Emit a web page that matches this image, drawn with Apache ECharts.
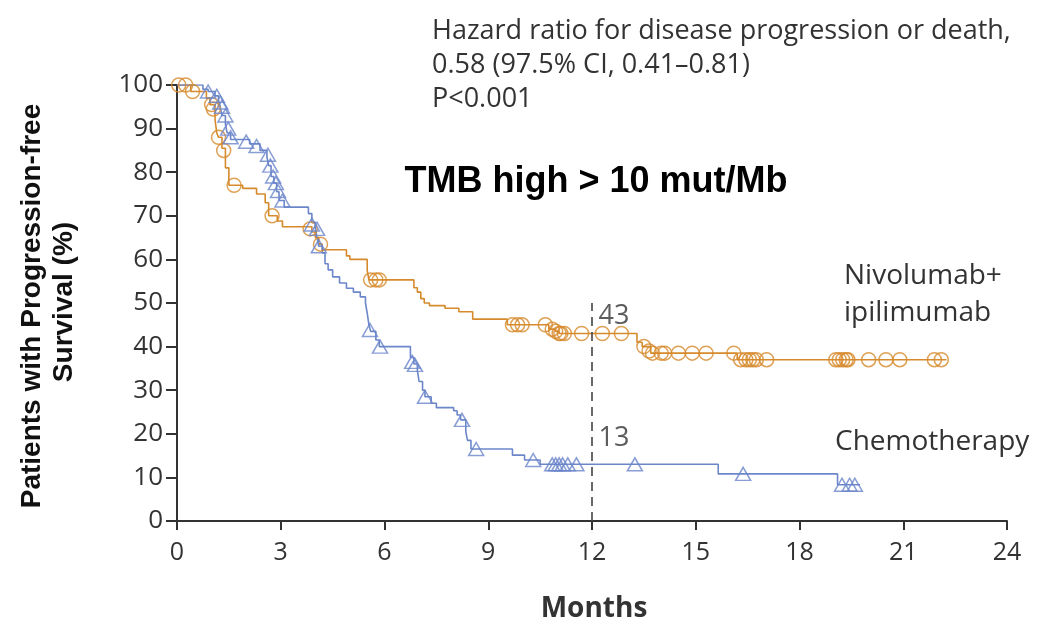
<!DOCTYPE html>
<html>
<head>
<meta charset="utf-8">
<script src="https://cdn.jsdelivr.net/npm/echarts@6/dist/echarts.min.js"></script>
<style>
  html, body { margin: 0; padding: 0; background: #fff; }
  #chart { width: 1042px; height: 628px; }
</style>
</head>
<body>
<div id="chart"></div>
<script>
// Kaplan-Meier progression-free survival, TMB high subgroup
const xTicks = [0, 3, 6, 9, 12, 15, 18, 21, 24];
const yTicks = [0, 10, 20, 30, 40, 50, 60, 70, 80, 90, 100];

// [month, survival %] after each event (step curve)
const nivoSteps = [
  [0, 100], [0.4, 98.5], [0.85, 97], [0.95, 95.5], [1.1, 92], [1.15, 89], [1.2, 88],
  [1.3, 85.5], [1.4, 81], [1.5, 77], [1.9, 76.3], [2.3, 75], [2.55, 73], [2.65, 70],
  [2.9, 68.8], [3.05, 67.5], [3.9, 66.3], [4.0, 65], [4.1, 63.5], [4.2, 62.2],
  [4.9, 60.8], [5.0, 60], [5.5, 57.5], [5.55, 55.3], [6.85, 53.5], [6.95, 52.5],
  [7.05, 51], [7.15, 50], [7.3, 49.4], [7.75, 48.8], [8.15, 48], [8.55, 46.3],
  [9.55, 45], [10.75, 44], [10.95, 43.5], [11.05, 43], [13.3, 41], [13.45, 40],
  [13.7, 38.5], [16.2, 37], [22.25, 37]
];
const nivoCensored = [
  [0.05, 100], [0.25, 100], [0.45, 98.5], [1.0, 95.5], [1.05, 94.5], [1.2, 88],
  [1.35, 85], [1.65, 77], [2.75, 70], [3.85, 67], [4.15, 63.5], [5.6, 55.3],
  [5.75, 55.3], [5.85, 55.3], [9.7, 45], [9.85, 45], [9.98, 45], [10.65, 45],
  [10.85, 44], [10.95, 43.5], [11.05, 43], [11.1, 43], [11.2, 43], [11.7, 43],
  [12.3, 43], [12.85, 43], [13.5, 40], [13.65, 39], [13.75, 38.5], [14.0, 38.5],
  [14.1, 38.5], [14.5, 38.5], [14.9, 38.5], [15.3, 38.5], [16.1, 38.5], [16.3, 37],
  [16.45, 37], [16.55, 37], [16.65, 37], [16.75, 37], [17.05, 37], [19.05, 37],
  [19.15, 37], [19.25, 37], [19.35, 37], [19.4, 37], [20.0, 37], [20.5, 37],
  [20.9, 37], [21.9, 37], [22.1, 37]
];

const chemoSteps = [
  [0, 100], [0.75, 99], [0.9, 98.5], [1.1, 97.5], [1.2, 96.5], [1.25, 95], [1.3, 93],
  [1.4, 91], [1.45, 89], [1.55, 87.5], [2.1, 86.5], [2.4, 85], [2.6, 83.5],
  [2.65, 81.5], [2.72, 79], [2.8, 77.5], [2.88, 75.5], [2.95, 73.5], [3.1, 72],
  [3.8, 70.5], [3.9, 68.5], [4.0, 67], [4.05, 65], [4.1, 63], [4.2, 61.5],
  [4.28, 59], [4.37, 57.6], [4.5, 56], [4.7, 54.6], [4.9, 53.4], [5.1, 52.5],
  [5.3, 51.4], [5.45, 50], [5.5, 47.7], [5.55, 45], [5.6, 43.5], [5.75, 41.5],
  [5.85, 40], [6.75, 37.5], [6.85, 36], [6.95, 34.5], [7.0, 32], [7.1, 30],
  [7.17, 28.5], [7.35, 27], [7.5, 26], [8.0, 25.3], [8.1, 24.3], [8.2, 23.2],
  [8.35, 20.5], [8.4, 18.5], [8.5, 16.5], [9.7, 15.1], [10.05, 14], [10.5, 13],
  [15.65, 10.8], [19.1, 8.3], [19.75, 8.3]
];
const chemoCensored = [
  [0.9, 98.5], [1.15, 97.5], [1.25, 96], [1.3, 95], [1.4, 93], [1.48, 90],
  [1.55, 88], [2.0, 87], [2.3, 86], [2.63, 84], [2.7, 81.5], [2.78, 79],
  [2.86, 77.5], [2.92, 75.7], [3.05, 73.5], [3.9, 68], [4.05, 67], [4.1, 63],
  [5.58, 43.8], [5.87, 40], [6.8, 36.5], [6.88, 35.8], [7.17, 28.5], [8.24, 23.2],
  [8.65, 16.5], [10.3, 14], [10.85, 13], [10.95, 13], [11.05, 13], [11.15, 13],
  [11.3, 13], [11.55, 13], [13.24, 13], [16.37, 10.8], [19.23, 8.3], [19.45, 8.3],
  [19.6, 8.3]
];

// survival at the 12-month landmark
const landmarkMonth = 12;
const landmarkNivo = 43;
const landmarkChemo = 13;

const ORANGE = '#D68A2C';
const BLUE = '#6C86CA';
const INK = '#333333';
const LABEL_FONT = '"Open Sans", "Noto Sans", sans-serif';
const BOLD_FONT = '"Liberation Sans", Arial, sans-serif';

const chart = echarts.init(document.getElementById('chart'), null, { renderer: 'canvas' });

chart.setOption({
  animation: false,
  grid: { left: 177, right: 35, top: 85, bottom: 107 },
  xAxis: {
    type: 'value', min: xTicks[0], max: xTicks[xTicks.length - 1], interval: 3,
    axisLine: { lineStyle: { color: INK, width: 2 } },
    axisTick: { length: 9, lineStyle: { color: INK, width: 2 } },
    axisLabel: { color: INK, fontSize: 25, fontFamily: LABEL_FONT, margin: 19 },
    splitLine: { show: false }
  },
  yAxis: {
    type: 'value', min: yTicks[0], max: yTicks[yTicks.length - 1], interval: 10,
    axisLine: { lineStyle: { color: INK, width: 2 } },
    axisTick: { length: 11, lineStyle: { color: INK, width: 2 } },
    axisLabel: { color: INK, fontSize: 26, fontFamily: LABEL_FONT, margin: 14 },
    splitLine: { show: false }
  },
  series: [
    {
      type: 'line', step: 'end', data: nivoSteps, showSymbol: false, symbol: 'none',
      lineStyle: { color: ORANGE, width: 1.6 }, z: 3,
      markLine: {
        silent: true, symbol: 'none', label: { show: false },
        lineStyle: { color: '#444', type: [9, 6], width: 1.6 },
        data: [[{ coord: [landmarkMonth, 0] }, { coord: [landmarkMonth, 50] }]]
      }
    },
    {
      type: 'scatter', data: nivoCensored, symbol: 'circle', symbolSize: 14,
      itemStyle: { color: 'transparent', borderColor: ORANGE, borderWidth: 1.5 }, z: 4
    },
    {
      type: 'line', step: 'end', data: chemoSteps, showSymbol: false, symbol: 'none',
      lineStyle: { color: BLUE, width: 1.6 }, z: 3
    },
    {
      type: 'scatter', data: chemoCensored, symbol: 'triangle', symbolSize: [15, 13],
      itemStyle: { color: 'transparent', borderColor: BLUE, borderWidth: 1.5 }, z: 4
    },
    {
      // landmark annotations at 12 months
      type: 'scatter', symbol: 'circle', symbolSize: 1, silent: true,
      itemStyle: { color: 'rgba(0,0,0,0)' },
      data: [
        { value: [landmarkMonth, landmarkNivo], label: { offset: [0, -17] } },
        { value: [landmarkMonth, landmarkChemo], label: { offset: [0, -26] } }
      ],
      label: {
        show: true, position: 'right', distance: 6,
        color: INK, fontSize: 27, fontFamily: LABEL_FONT,
        formatter: p => String(p.value[1])
      }, z: 5
    }
  ],
  graphic: [
    {
      type: 'text', left: 432, top: 14,
      style: {
        text: 'Hazard ratio for disease progression or death,\n0.58 (97.5% CI, 0.41\u20130.81)\nP<0.001',
        fill: INK, font: '27px ' + LABEL_FONT, lineHeight: 34
      }
    },
    {
      type: 'text', x: 596, y: 182,
      style: {
        text: 'TMB high > 10 mut/Mb', fill: '#000',
        font: 'bold 36px ' + BOLD_FONT,
        align: 'center', verticalAlign: 'middle'
      }
    },
    {
      type: 'text', left: 844, top: 258,
      style: {
        text: 'Nivolumab+\nipilimumab', fill: INK, font: '28px ' + LABEL_FONT,
        align: 'center', lineHeight: 37
      }
    },
    {
      type: 'text', left: 835, top: 428,
      style: { text: 'Chemotherapy', fill: INK, font: '28px ' + LABEL_FONT }
    },
    {
      type: 'text', x: 594, y: 609,
      style: {
        text: 'Months', fill: INK, font: 'bold 28px ' + LABEL_FONT,
        align: 'center', verticalAlign: 'middle'
      }
    },
    {
      type: 'text', x: 32, y: 306, rotation: Math.PI / 2,
      style: {
        text: 'Patients with Progression-free', fill: '#111',
        font: 'bold 28px ' + BOLD_FONT,
        align: 'center', verticalAlign: 'middle'
      }
    },
    {
      type: 'text', x: 64, y: 302, rotation: Math.PI / 2,
      style: {
        text: 'Survival (%)', fill: '#111',
        font: 'bold 28px ' + BOLD_FONT,
        align: 'center', verticalAlign: 'middle'
      }
    }
  ]
});
</script>
</body>
</html>
